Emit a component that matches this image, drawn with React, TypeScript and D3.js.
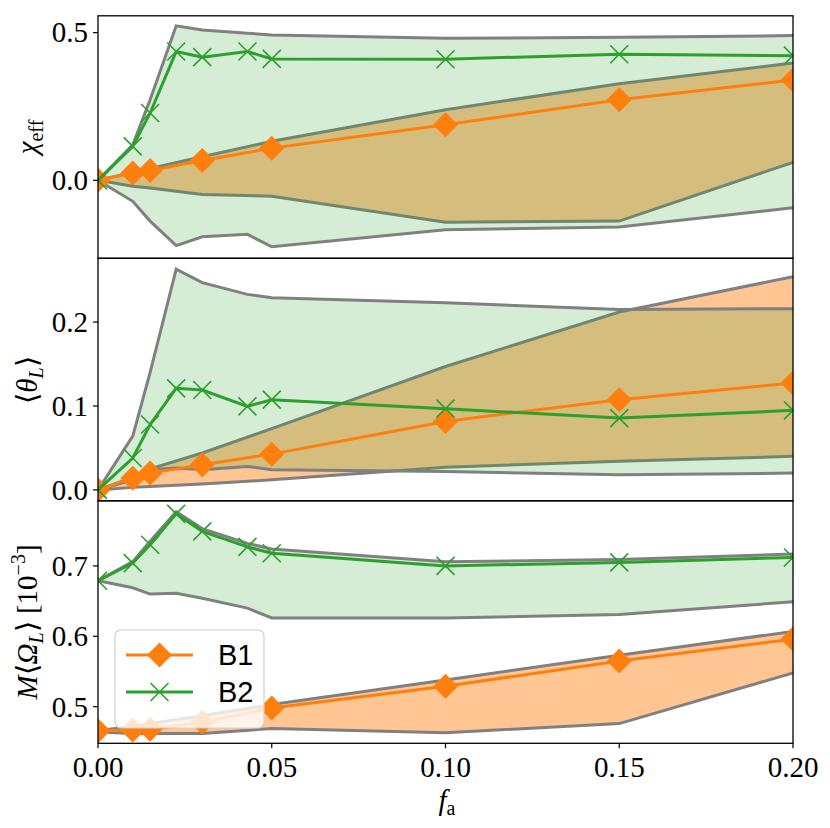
import * as d3 from 'd3';

// f_a values for the two series
const xB1 = [0, 0.01, 0.015, 0.03, 0.05, 0.1, 0.15, 0.2];
const xB2 = [0, 0.01, 0.015, 0.0225, 0.03, 0.043, 0.05, 0.1, 0.15, 0.2];

// chi_eff
const chiB1 = [0, 0.025, 0.033, 0.067, 0.109, 0.188, 0.273, 0.34];
const chiB1Hi = [0, 0.027, 0.04, 0.08, 0.132, 0.239, 0.327, 0.397];
const chiB1Lo = [0, -0.02, -0.026, -0.048, -0.054, -0.142, -0.138, 0.061];
const chiB2 = [0, 0.115, 0.228, 0.436, 0.417, 0.436, 0.411, 0.41, 0.427, 0.422];
const chiB2Hi = [0, 0.12, 0.273, 0.523, 0.509, 0.498, 0.492, 0.481, 0.484, 0.49];
const chiB2Lo = [0, -0.071, -0.138, -0.221, -0.191, -0.183, -0.225, -0.167, -0.158, -0.093];

// <theta_L>
const thetaB1 = [0, 0.014, 0.02, 0.03, 0.0426, 0.0816, 0.1075, 0.1275];
const thetaB1Hi = [0, 0.015, 0.025, 0.044, 0.073, 0.147, 0.212, 0.254];
const thetaB1Lo = [0, 0.003, 0.004, 0.007, 0.012, 0.027, 0.034, 0.04];
const thetaB2 = [0, 0.038, 0.078, 0.121, 0.119, 0.0996, 0.1075, 0.0968, 0.0856, 0.0948];
const thetaB2Hi = [0, 0.064, 0.14, 0.263, 0.247, 0.233, 0.229, 0.223, 0.215, 0.216];
const thetaB2Lo = [0, 0.012, 0.024, 0.026, 0.024, 0.028, 0.024, 0.022, 0.018, 0.02];

// M<Omega_L> [1e-3]
const omegaB1 = [0.466, 0.467, 0.468, 0.478, 0.498, 0.529, 0.565, 0.596];
const omegaB1Hi = [0.466, 0.472, 0.476, 0.487, 0.503, 0.538, 0.573, 0.607];
const omegaB1Lo = [0.464, 0.462, 0.462, 0.462, 0.469, 0.463, 0.476, 0.548];
const omegaB2 = [0.679, 0.704, 0.73, 0.774, 0.749, 0.727, 0.718, 0.7, 0.705, 0.712];
const omegaB2Hi = [0.679, 0.706, 0.735, 0.777, 0.753, 0.732, 0.724, 0.706, 0.709, 0.717];
const omegaB2Lo = [0.679, 0.669, 0.66, 0.661, 0.654, 0.64, 0.626, 0.626, 0.631, 0.649];

const xTicks = [0, 0.05, 0.1, 0.15, 0.2];
const chiTicks = [0, 0.5];
const thetaTicks = [0, 0.1, 0.2];
const omegaTicks = [0.5, 0.6, 0.7];

const ORANGE = '#ff7f0e';
const GREEN = '#2ca02c';
const GRAY = '#808080';
const SERIF = 'Liberation Serif';
const SANS = 'Liberation Sans';

const left = 98;
const right = 793;
const panelTops = [15.8, 258.3, 500.8];
const panelH = 242.5;

const x = d3.scaleLinear().domain([0, 0.2]).range([left, right]);

interface Series {
  xs: number[];
  mid: number[];
  lo: number[];
  hi: number[];
}

interface PanelProps {
  idx: number;
  domain: [number, number];
  ticks: number[];
  b1: Series;
  b2: Series;
  showX: boolean;
  children?: React.ReactNode;
}

const diamond = (cx: number, cy: number, r: number) =>
  `M${cx},${cy - r}L${cx + r},${cy}L${cx},${cy + r}L${cx - r},${cy}Z`;
const cross = (cx: number, cy: number, r: number) =>
  `M${cx - r},${cy - r}L${cx + r},${cy + r}M${cx - r},${cy + r}L${cx + r},${cy - r}`;

const Panel = ({ idx, domain, ticks, b1, b2, showX, children }: PanelProps) => {
  const top = panelTops[idx];
  const bottom = top + panelH;
  const y = d3.scaleLinear().domain(domain).range([bottom, top]);
  const f = d3.format('.1f');
  const clipId = `clip${idx}`;

  const band = (s: Series) =>
    d3
      .area<number>()
      .x((_, i) => x(s.xs[i]))
      .y0((_, i) => y(s.lo[i]))
      .y1((_, i) => y(s.hi[i]))(s.xs) || '';
  const edge = (s: Series, vals: number[]) =>
    d3
      .line<number>()
      .x((_, i) => x(s.xs[i]))
      .y((_, i) => y(vals[i]))(s.xs) || '';

  return (
    <g>
      <defs>
        <clipPath id={clipId}>
          <rect x={left} y={top} width={right - left} height={panelH} />
        </clipPath>
      </defs>
      <g clipPath={`url(#${clipId})`}>
        <path d={band(b1)} fill={ORANGE} fillOpacity={0.45} />
        <path d={edge(b1, b1.lo)} fill="none" stroke={GRAY} strokeWidth={3} />
        <path d={edge(b1, b1.hi)} fill="none" stroke={GRAY} strokeWidth={3} />
        <path d={band(b2)} fill={GREEN} fillOpacity={0.2} />
        <path d={edge(b2, b2.lo)} fill="none" stroke={GRAY} strokeWidth={3} />
        <path d={edge(b2, b2.hi)} fill="none" stroke={GRAY} strokeWidth={3} />
        <path d={edge(b1, b1.mid)} fill="none" stroke={ORANGE} strokeWidth={3} />
        {b1.xs.map((v, i) => (
          <path key={`d${i}`} d={diamond(x(v), y(b1.mid[i]), 12.5)} fill={ORANGE} />
        ))}
        <path d={edge(b2, b2.mid)} fill="none" stroke={GREEN} strokeWidth={3} />
        {b2.xs.map((v, i) => (
          <path key={`c${i}`} d={cross(x(v), y(b2.mid[i]), 9)} stroke={GREEN} strokeWidth={1.6} fill="none" />
        ))}
      </g>
      <rect x={left} y={top} width={right - left} height={panelH} fill="none" stroke="#000" strokeWidth={1.3} />
      {ticks.map((t) => (
        <g key={t}>
          <line x1={left - 5} x2={left} y1={y(t)} y2={y(t)} stroke="#000" strokeWidth={1.2} />
          <text x={left - 10} y={y(t)} dy="0.34em" textAnchor="end" fontFamily={SERIF} fontSize={29}>
            {f(t)}
          </text>
        </g>
      ))}
      {showX &&
        xTicks.map((t) => (
          <g key={`x${t}`}>
            <line x1={x(t)} x2={x(t)} y1={bottom} y2={bottom + 5} stroke="#000" strokeWidth={1.2} />
            <text x={x(t)} y={bottom + 34} textAnchor="middle" fontFamily={SERIF} fontSize={29}>
              {d3.format('.2f')(t)}
            </text>
          </g>
        ))}
      {children}
    </g>
  );
};

const App = () => {
  return (
    <svg
      width={830}
      height={828}
      style={{ position: 'absolute', left: 0, top: 0, background: '#fff' }}
    >
      <Panel
        idx={0}
        domain={[-0.264, 0.557]}
        ticks={chiTicks}
        b1={{ xs: xB1, mid: chiB1, lo: chiB1Lo, hi: chiB1Hi }}
        b2={{ xs: xB2, mid: chiB2, lo: chiB2Lo, hi: chiB2Hi }}
        showX={false}
      />
      <Panel
        idx={1}
        domain={[-0.013, 0.276]}
        ticks={thetaTicks}
        b1={{ xs: xB1, mid: thetaB1, lo: thetaB1Lo, hi: thetaB1Hi }}
        b2={{ xs: xB2, mid: thetaB2, lo: thetaB2Lo, hi: thetaB2Hi }}
        showX={false}
      />
      <Panel
        idx={2}
        domain={[0.448, 0.7925]}
        ticks={omegaTicks}
        b1={{ xs: xB1, mid: omegaB1, lo: omegaB1Lo, hi: omegaB1Hi }}
        b2={{ xs: xB2, mid: omegaB2, lo: omegaB2Lo, hi: omegaB2Hi }}
        showX={true}
      >
        {/* legend */}
        <g>
          <rect x={115} y={630} width={149} height={98} rx={6} fill="#fff" fillOpacity={0.8} stroke="#d0d0d0" strokeWidth={1.2} />
          <line x1={126} x2={193} y1={655} y2={655} stroke={ORANGE} strokeWidth={3} />
          <path d={diamond(159.5, 655, 12.5)} fill={ORANGE} />
          <text x={218} y={655} dy="0.36em" fontFamily={SANS} fontSize={29}>B1</text>
          <line x1={126} x2={193} y1={692} y2={692} stroke={GREEN} strokeWidth={3} />
          <path d={cross(159.5, 692, 9)} stroke={GREEN} strokeWidth={1.6} fill="none" />
          <text x={218} y={692} dy="0.36em" fontFamily={SANS} fontSize={29}>B2</text>
        </g>
      </Panel>

      {/* axis labels */}
      <text transform="translate(37,137) rotate(-90)" textAnchor="middle" fontFamily={SERIF} fontSize={29}>
        <tspan fontStyle="italic">χ</tspan>
        <tspan fontSize={20} dy={6}>eff</tspan>
      </text>
      <text transform="translate(37,380) rotate(-90)" textAnchor="middle" fontFamily={SERIF} fontSize={29}>
        ⟨<tspan fontStyle="italic">θ</tspan>
        <tspan fontSize={20} dy={6} fontStyle="italic">L</tspan>
        <tspan dy={-6}>⟩</tspan>
      </text>
      <text transform="translate(37,622) rotate(-90)" textAnchor="middle" fontFamily={SERIF} fontSize={29}>
        <tspan fontStyle="italic">M</tspan>⟨<tspan fontStyle="italic">Ω</tspan>
        <tspan fontSize={20} dy={6} fontStyle="italic">L</tspan>
        <tspan dy={-6}>⟩ [10</tspan>
        <tspan fontSize={20} dy={-12}>−3</tspan>
        <tspan dy={12}>]</tspan>
      </text>
      <text x={447} y={810} textAnchor="middle" fontFamily={SERIF} fontSize={29}>
        <tspan fontStyle="italic">f</tspan>
        <tspan fontSize={20} dy={5}>a</tspan>
      </text>
    </svg>
  );
};

export default App;
